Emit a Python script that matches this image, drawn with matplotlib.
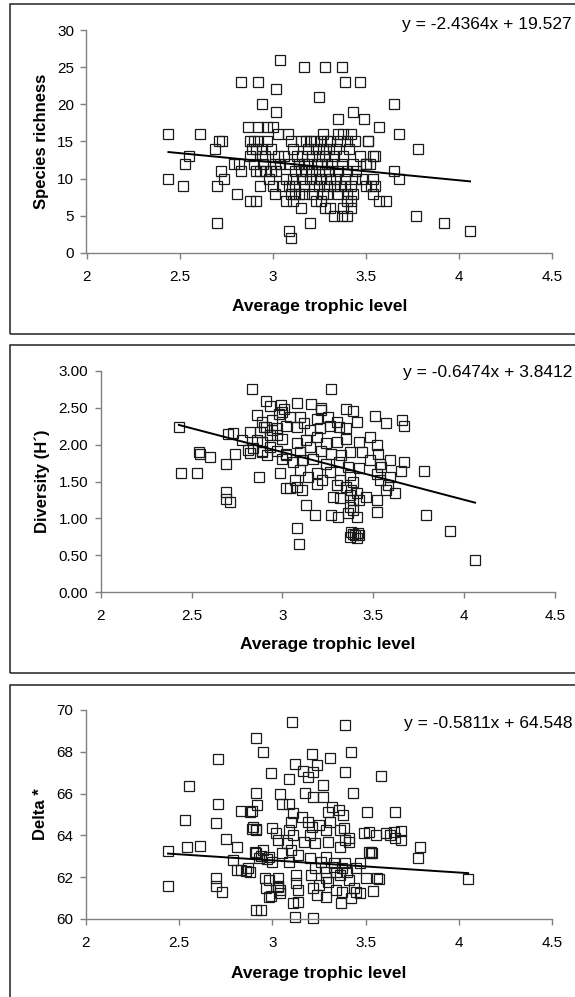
import matplotlib
matplotlib.use("Agg")
import matplotlib.pyplot as plt
from matplotlib.patches import Rectangle

plt.rcParams['font.family'] = ['Liberation Sans', 'DejaVu Sans']

# ---------------- data ----------------
# Panel 1: species richness vs average trophic level
rich_x = [2.44, 2.44, 2.55, 2.53, 2.52, 2.61, 2.69, 2.71, 2.73, 2.72, 2.74, 2.70, 2.70, 2.81, 2.79, 2.82,
          2.83, 2.83, 2.92, 2.94, 2.87, 2.92, 2.97, 3.00, 3.02, 3.02, 3.04, 3.03, 3.17, 3.28, 3.37, 3.25,
          3.39, 3.47, 3.35, 3.43, 3.49, 3.57, 3.65, 3.68, 3.78, 3.77, 3.92, 4.06, 3.09, 3.10, 3.20, 3.15,
          2.88, 2.91, 3.57, 3.61, 3.65, 3.68, 3.51, 3.55, 3.50, 3.52,
          3.08, 3.27, 3.35, 3.38, 3.42,
          2.88, 2.90, 2.92, 2.97, 3.10, 3.15, 3.18, 3.20, 3.22, 3.26, 3.29, 3.31, 3.36, 3.40, 3.44, 3.51,
          2.89, 2.91, 2.94, 2.99, 3.11, 3.19, 3.23, 3.27, 3.30, 3.34, 3.41,
          2.88, 2.94, 2.96, 3.03, 3.06, 3.13, 3.16, 3.21, 3.25, 3.28, 3.33, 3.38, 3.47, 3.54,
          2.90, 2.95, 3.01, 3.04, 3.09, 3.14, 3.17, 3.19, 3.24, 3.26, 3.29, 3.32, 3.37, 3.43, 3.50,
          2.91, 2.93, 2.96, 2.99, 3.02, 3.12, 3.15, 3.18, 3.21, 3.25, 3.28, 3.30, 3.35, 3.40, 3.45,
          2.98, 3.07, 3.11, 3.16, 3.20, 3.23, 3.26, 3.31, 3.34, 3.39, 3.44, 3.48, 3.54,
          2.93, 3.00, 3.05, 3.09, 3.12, 3.17, 3.22, 3.25, 3.29, 3.33, 3.36, 3.39, 3.42, 3.50, 3.53, 3.55,
          3.01, 3.10, 3.12, 3.14, 3.17, 3.21, 3.27, 3.29, 3.35, 3.40, 3.43, 3.54,
          3.07, 3.11, 3.23, 3.26, 3.40, 3.42,
          3.28, 3.31, 3.38, 3.42,
          3.33, 3.37, 3.40]
rich_y = [16, 10, 13, 12, 9, 16, 14, 15, 15, 11, 10, 9, 4, 8, 12, 12,
          11, 23, 23, 20, 17, 17, 17, 17, 22, 19, 26, 16, 25, 25, 25, 21,
          23, 23, 18, 19, 18, 17, 20, 16, 14, 5, 4, 3, 3, 2, 4, 6,
          7, 7, 7, 7, 11, 10, 15, 13, 12, 12,
          16, 16, 16, 16, 16,
          15, 15, 15, 15, 15, 15, 15, 15, 15, 15, 15, 15, 15, 15, 15, 15,
          14, 14, 14, 14, 14, 14, 14, 14, 14, 14, 14,
          13, 13, 13, 13, 13, 13, 13, 13, 13, 13, 13, 13, 13, 13,
          12, 12, 12, 12, 12, 12, 12, 12, 12, 12, 12, 12, 12, 12, 12,
          11, 11, 11, 11, 11, 11, 11, 11, 11, 11, 11, 11, 11, 11, 11,
          10, 10, 10, 10, 10, 10, 10, 10, 10, 10, 10, 10, 10,
          9, 9, 9, 9, 9, 9, 9, 9, 9, 9, 9, 9, 9, 9, 9, 9,
          8, 8, 8, 8, 8, 8, 8, 8, 8, 8, 8, 8,
          7, 7, 7, 7, 7, 7,
          6, 6, 6, 6,
          5, 5, 5]

# Panel 2: diversity (H') vs average trophic level
div_x = [2.43, 2.44, 2.53, 2.54, 2.545, 2.60, 2.69, 2.70, 2.73, 2.74, 2.78, 2.81, 2.82, 2.83, 2.86, 2.91,
         2.87, 2.985, 2.69, 2.69, 2.71, 3.08, 3.09, 3.13, 3.18,
         3.27, 2.93, 2.99, 3.00, 3.08, 3.155, 3.21, 3.21, 3.35, 3.39, 3.41, 3.51, 3.57,
         2.885, 2.91, 2.94, 2.98, 3.01, 3.04, 3.095, 3.12, 3.19, 3.25, 3.30, 3.31,
         3.35, 3.26, 3.205, 3.15, 3.08, 3.02, 2.97, 2.875, 2.82,
         2.86, 2.93, 3.00, 3.08, 3.13, 3.19, 3.24, 3.30, 3.35, 3.42, 3.48, 3.52,
         2.84, 2.89, 2.97, 3.02, 3.095, 3.15, 3.21, 3.27, 3.32, 3.37, 3.44, 3.525,
         3.00, 3.06, 3.11, 3.17, 3.24, 3.31, 3.36, 3.42, 3.48, 3.535, 3.59,
         3.095, 3.14, 3.19, 3.26, 3.315, 3.37, 3.39, 3.535, 3.59,
         3.02, 3.08, 3.11, 3.19, 3.22, 3.30, 3.35, 3.38, 3.41, 3.46,
         3.28, 3.315, 3.37, 3.39, 3.42, 3.37, 3.39,
         3.27, 3.305, 3.36, 3.41, 3.52,
         3.38, 3.40, 3.415, 3.37, 3.41, 3.39, 3.42,
         3.04, 3.07, 3.52, 3.57,
         2.90, 2.94, 2.97, 2.89, 2.93, 2.89, 3.02, 2.915,
         3.66, 3.67, 3.67, 3.65, 3.62, 3.78, 3.79, 3.92, 4.06, 3.54, 3.52, 3.58]
div_y = [2.24, 1.61, 1.61, 1.90, 1.88, 1.83, 1.74, 2.14, 2.16, 1.87, 2.07, 1.93, 1.89, 2.76, 2.40, 2.59,
         1.56, 1.61, 1.36, 1.26, 1.22, 0.87, 0.65, 1.18, 1.05,
         2.75, 2.52, 2.54, 2.44, 2.57, 2.55, 2.50, 2.47, 2.49, 2.46, 2.31, 2.39, 2.29,
         2.31, 2.24, 2.33, 2.42, 2.49, 2.38, 2.38, 2.29, 2.35, 2.38, 2.31, 2.24,
         2.22, 2.26, 2.22, 2.20, 2.24, 2.26, 2.22, 2.17, 2.17,
         2.06, 2.13, 2.08, 2.02, 2.06, 2.11, 2.02, 2.04, 2.08, 2.04, 2.11, 1.99,
         1.95, 1.90, 1.92, 1.88, 1.90, 1.97, 1.92, 1.88, 1.86, 1.90, 1.90, 1.88,
         1.81, 1.77, 1.79, 1.81, 1.74, 1.77, 1.70, 1.68, 1.79, 1.74, 1.79,
         1.65, 1.56, 1.61, 1.63, 1.52, 1.59, 1.50, 1.52, 1.56,
         1.41, 1.43, 1.38, 1.47, 1.52, 1.45, 1.43, 1.38, 1.34, 1.29,
         1.29, 1.27, 1.31, 1.25, 1.25, 1.16, 1.11,
         1.04, 1.02, 1.07, 1.02, 1.09,
         0.82, 0.77, 0.80, 0.75, 0.73, 0.79, 0.78,
         1.41, 1.52, 1.25, 1.38,
         2.24, 2.20, 2.13, 2.04, 1.97, 1.92, 1.86, 1.86,
         2.34, 2.26, 1.77, 1.64, 1.35, 1.64, 1.05, 0.83, 0.43, 1.70, 1.60, 1.45]

# Panel 3: Delta* vs average trophic level
delta_x = [2.44, 2.44, 2.53, 2.54, 2.61, 2.55, 2.695, 2.71, 2.71, 2.70, 2.70, 2.73, 2.75, 2.81, 2.79, 2.81,
           2.83, 2.86, 2.87, 2.83, 2.89, 2.92, 2.89, 2.91, 3.79, 3.78, 4.05, 3.54, 3.57, 3.52, 3.53,
           3.63, 3.69, 3.69, 3.47, 3.42, 2.91, 2.94, 2.97, 2.99, 3.03, 3.04, 2.98,
           3.104, 3.39, 2.91, 2.95, 3.21, 3.31, 3.42, 3.12, 3.165, 3.22, 3.19, 3.24, 2.99, 3.09, 3.39, 3.58,
           3.27, 2.91, 3.04, 3.05, 3.09, 3.175, 3.22, 3.27, 3.43, 3.32, 3.355, 3.30, 3.38, 3.51, 3.66,
           3.11, 3.10, 3.09, 3.11, 3.16, 3.19, 3.21, 3.25, 3.29, 3.31,
           2.88, 2.895, 2.91, 3.00, 3.02, 2.905,
           3.49, 3.52, 3.555, 3.61, 3.65, 3.66, 3.36, 3.385, 3.39, 3.41,
           3.03, 3.08, 3.17, 3.20, 3.23, 3.30, 3.36, 3.41, 3.53,
           2.95, 2.98, 3.05, 3.10, 3.14, 3.20, 3.26, 3.29, 3.33, 3.39, 3.47, 3.535,
           2.93, 3.00, 3.09, 3.23, 3.29, 3.33, 3.34, 3.375, 3.40, 3.45,
           2.88, 2.96, 3.03, 3.125, 3.205, 3.285, 3.36, 3.41, 3.50, 3.56,
           2.965, 3.03, 3.125, 3.14, 3.22, 3.25, 3.30, 3.34, 3.375, 3.44,
           2.98, 3.04, 3.11, 3.14, 3.24, 3.29, 3.37, 3.45,
           2.91, 2.94, 3.12, 3.22]
delta_y = [63.23, 61.59, 64.75, 63.44, 63.50, 66.34, 64.59, 67.66, 65.51, 61.96, 61.60, 61.27, 63.82, 63.44, 62.83, 62.36,
           62.36, 62.28, 62.44, 65.19, 65.19, 65.46, 64.30, 64.30, 63.44, 62.91, 61.93, 61.32, 61.93, 63.20, 63.15,
           64.03, 64.19, 63.79, 61.24, 61.00, 63.18, 63.00, 62.87, 61.08, 61.56, 61.40, 61.88,
           69.44, 69.28, 68.65, 68.00, 67.88, 67.69, 68.00, 67.40, 67.08, 67.02, 66.81, 67.37, 66.97, 66.68, 67.02, 66.84,
           66.41, 66.01, 65.98, 65.49, 65.49, 66.04, 65.85, 65.85, 66.04, 65.37, 65.22, 65.13, 64.98, 65.13, 65.13,
           65.05, 64.65, 64.26, 64.02, 64.89, 64.65, 64.42, 64.49, 64.26, 64.65,
           65.13, 64.42, 64.26, 64.34, 64.10, 63.22,
           64.10, 64.18, 64.02, 64.10, 64.18, 63.86, 64.26, 64.34, 63.78, 63.86,
           63.78, 63.62, 63.70, 64.02, 63.62, 63.70, 63.46, 63.70, 63.22,
           63.30, 62.98, 63.14, 63.30, 63.06, 62.90, 62.74, 62.98, 62.66, 62.66, 62.66, 63.14,
           62.90, 62.74, 62.74, 62.42, 62.26, 62.50, 62.26, 62.42, 62.26, 62.42,
           62.26, 61.95, 61.95, 62.10, 62.10, 61.95, 62.10, 61.87, 61.95, 61.95,
           61.47, 61.55, 61.71, 61.39, 61.47, 61.63, 61.79, 61.39, 61.31, 61.47,
           61.07, 61.23, 60.75, 60.83, 61.15, 61.07, 60.75, 61.31,
           60.43, 60.43, 60.10, 60.05]

# trend-line coefficients (from the equations shown)
rich_fit = (-2.4364, 19.527)
div_fit = (-0.6474, 3.8412)
delta_fit = (-0.5811, 64.548)

x_label = "Average trophic level"
x_ticks = [2, 2.5, 3, 3.5, 4, 4.5]
x_tick_labels = ["2", "2.5", "3", "3.5", "4", "4.5"]

panels = [
    dict(x=rich_x, y=rich_y, fit=rich_fit, ylabel="Species richness",
         ylim=(0, 30), yticks=[0, 5, 10, 15, 20, 25, 30], fmt="{:.0f}",
         eq="y = -2.4364x + 19.527"),
    dict(x=div_x, y=div_y, fit=div_fit, ylabel="Diversity (H\u00b4)",
         ylim=(0, 3), yticks=[0, 0.5, 1.0, 1.5, 2.0, 2.5, 3.0], fmt="{:.2f}",
         eq="y = -0.6474x + 3.8412"),
    dict(x=delta_x, y=delta_y, fit=delta_fit, ylabel="Delta *",
         ylim=(60, 70), yticks=[60, 62, 64, 66, 68, 70], fmt="{:.0f}",
         eq="y = -0.5811x + 64.548"),
]

# ---------------- layout (pixels) ----------------
W, H = 575, 997
fig = plt.figure(figsize=(W / 100, H / 100), dpi=100)

# axes boxes: left, right, top, bottom in px
ax_px = [(86.5, 552, 30, 253), (100.7, 555, 371, 592), (86, 552, 710, 919)]
box_px = [(9.5, 4, 334), (9.5, 345, 673), (9.5, 685, 1003)]
eq_y = [25, 372, 723]
xl_y = [307, 644, 973]

grey = "#808080"
for p, (l, r, t, b), (bl, bt, bb), ey, xy in zip(panels, ax_px, box_px, eq_y, xl_y):
    # outer chart frame
    fig.add_artist(Rectangle((bl / W, 1 - bb / H), (W + 10 - bl) / W, (bb - bt) / H,
                             transform=fig.transFigure, fill=False,
                             edgecolor="#222222", linewidth=1.1, clip_on=False))
    ax = fig.add_axes([l / W, 1 - b / H, (r - l) / W, (b - t) / H])
    ax.plot(p["x"], p["y"], linestyle="none", marker="s", markersize=7.0,
            markerfacecolor="none", markeredgecolor="#1a1a1a", markeredgewidth=0.9,
            clip_on=False)
    slope, icpt = p["fit"]
    x0, x1 = min(p["x"]), max(p["x"])
    ax.plot([x0, x1], [slope * x0 + icpt, slope * x1 + icpt], color="black", linewidth=1.4)
    ax.set_xlim(2, 4.5)
    ax.set_ylim(*p["ylim"])
    ax.set_xticks(x_ticks)
    ax.set_xticklabels(x_tick_labels)
    ax.set_yticks(p["yticks"])
    ax.set_yticklabels([p["fmt"].format(v) for v in p["yticks"]])
    for s in ("top", "right"):
        ax.spines[s].set_visible(False)
    for s in ("left", "bottom"):
        ax.spines[s].set_color(grey)
        ax.spines[s].set_linewidth(1.0)
    ax.tick_params(direction="out", length=4, width=1.0, color=grey,
                   labelsize=11, labelcolor="black")
    ax.tick_params(axis="x", pad=8)
    ax.tick_params(axis="y", pad=5)
    ax.set_ylabel(p["ylabel"], fontsize=12, fontweight="bold", labelpad=6)
    fig.text((l + r) / 2 / W, 1 - xy / H, x_label, ha="center", va="center",
             fontsize=12.5, fontweight="bold")
    fig.text(572 / W, 1 - ey / H, p["eq"], ha="right", va="center", fontsize=12.5)

fig.savefig("out.png", dpi=100)
